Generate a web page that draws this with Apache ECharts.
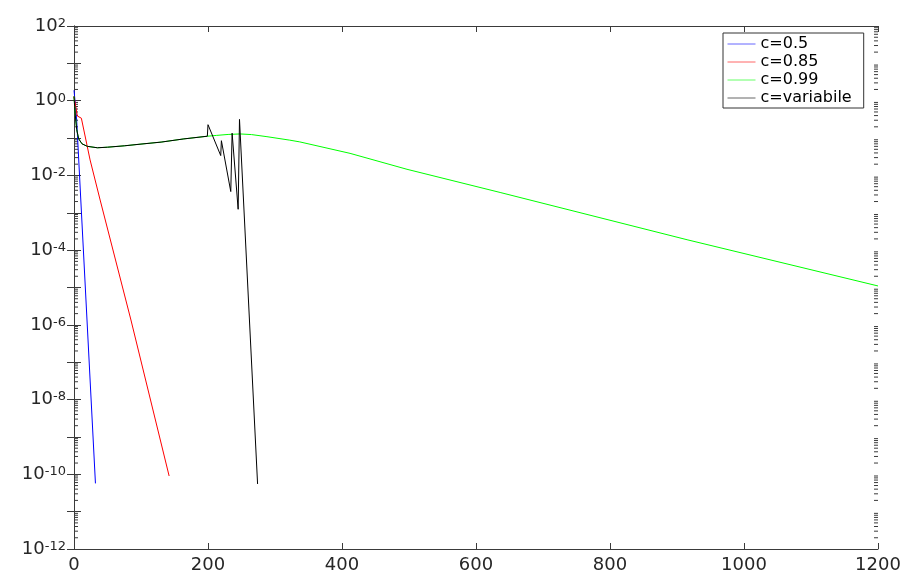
<!DOCTYPE html>
<html>
<head>
<meta charset="utf-8">
<script src="https://cdn.jsdelivr.net/npm/echarts@6/dist/echarts.min.js"></script>
<style>
  html, body { margin: 0; padding: 0; background: #fff; }
  #chart { width: 906px; height: 574px; }
</style>
</head>
<body>
<div id="chart"></div>
<script>
// Residual per iteration for each damping factor c (log scale).
const seriesNames = ['c=0.5', 'c=0.85', 'c=0.99', 'c=variabile'];

const iterC050 = [0, 2, 4, 32];
const resC050  = [1.9, 0.8, 0.3, 5.7e-11];

const iterC085 = [0, 5, 11, 24, 39, 85, 142];
const resC085  = [1.3, 0.39, 0.34, 0.026, 2.2e-3, 1.35e-6, 9e-11];

// c=0.99 and c=variabile coincide up to iteration 199
const iterC099 = [0, 1, 2, 4, 7, 12, 20, 35, 50, 75, 100, 130, 164, 199,
                  213, 230, 248, 265, 288, 322, 337, 412, 497, 636, 915, 1200];
const resC099  = [1.3, 0.7, 0.4, 0.17, 0.095, 0.07, 0.06, 0.055, 0.057, 0.062, 0.069, 0.078, 0.095, 0.112,
                  0.118, 0.125, 0.129, 0.124, 0.109, 0.088, 0.079, 0.039, 0.0146, 3.5e-3, 1.9e-4, 1.1e-5];

const iterVar = [0, 1, 2, 4, 7, 12, 20, 35, 50, 75, 100, 130, 164, 199,
                 200, 219, 220, 234, 236, 245, 247, 274];
const resVar  = [1.3, 0.7, 0.4, 0.17, 0.095, 0.07, 0.06, 0.055, 0.057, 0.062, 0.069, 0.078, 0.095, 0.112,
                 0.228, 0.034, 0.085, 0.0037, 0.135, 0.00124, 0.316, 5.5e-11];

const xTicks = [0, 200, 400, 600, 800, 1000, 1200];
const yExpMin = -12, yExpMax = 2;

const pairs = (xs, ys) => xs.map((x, i) => [x, ys[i]]);

// Minor tick positions on the log axis: 2..9 times each decade
const minorTicks = [];
for (let e = yExpMin; e < yExpMax; e++) {
  for (let k = 2; k <= 9; k++) minorTicks.push([0, k * Math.pow(10, e)]);
}

const FONT = 'DejaVu Sans';
const AXIS_COLOR = '#3a3a3a';
const TEXT_COLOR = '#262626';

const chart = echarts.init(document.getElementById('chart'), null, { renderer: 'canvas' });

const lineSeries = (name, data, color) => ({
  name, type: 'line', data, symbol: 'none', showSymbol: false, smooth: false,
  lineStyle: { color, width: 1 }, itemStyle: { color },
  emphasis: { disabled: true }, animation: false, z: 3
});

const yAxisBase = {
  type: 'log', logBase: 10,
  min: Math.pow(10, yExpMin), max: Math.pow(10, yExpMax), interval: 1,
  axisLine: { show: true, lineStyle: { color: AXIS_COLOR, width: 1 } },
  axisTick: { show: true, inside: true, length: 7, lineStyle: { color: AXIS_COLOR } },
  splitLine: { show: false }
};

chart.setOption({
  animation: false,
  backgroundColor: '#fff',
  grid: { left: 74, right: 28, top: 26, bottom: 25, containLabel: false },
  xAxis: [
    {
      type: 'value', min: 0, max: 1200, interval: 200, position: 'bottom',
      axisLine: { show: true, onZero: false, lineStyle: { color: AXIS_COLOR, width: 1 } },
      axisTick: { show: true, inside: true, length: 6, lineStyle: { color: AXIS_COLOR } },
      axisLabel: { show: true, color: TEXT_COLOR, fontFamily: FONT, fontSize: 18, margin: 7,
                   formatter: v => xTicks.includes(v) ? String(v) : '' },
      splitLine: { show: false }
    },
    {
      type: 'value', min: 0, max: 1200, interval: 200, position: 'top',
      axisLine: { show: true, onZero: false, lineStyle: { color: AXIS_COLOR, width: 1 } },
      axisTick: { show: true, inside: true, length: 6, lineStyle: { color: AXIS_COLOR } },
      axisLabel: { show: false },
      splitLine: { show: false }
    }
  ],
  yAxis: [
    Object.assign({}, yAxisBase, {
      position: 'left',
      axisLabel: {
        show: true, margin: 8, color: TEXT_COLOR, fontFamily: FONT,
        formatter: v => {
          const e = Math.round(Math.log10(v));
          if (e % 2 !== 0) return '';
          return '{b|10}{s|' + e + '}';
        },
        rich: {
          b: { fontSize: 18, fontFamily: FONT, color: TEXT_COLOR },
          s: { fontSize: 13, fontFamily: FONT, color: TEXT_COLOR, verticalAlign: 'top' }
        }
      }
    }),
    Object.assign({}, yAxisBase, { position: 'right', axisLabel: { show: false } })
  ],
  legend: {
    data: seriesNames,
    orient: 'vertical',
    left: 723, top: 33,
    padding: [3, 12, 2, 4],
    itemGap: 2, itemWidth: 28, itemHeight: 14,
    backgroundColor: '#fff',
    borderColor: '#333', borderWidth: 1, borderRadius: 0,
    itemStyle: { opacity: 0 },
    lineStyle: { width: 1, opacity: 0.6 },
    textStyle: { fontFamily: FONT, fontSize: 16, color: '#000' },
    selectedMode: false
  },
  series: [
    lineSeries('c=0.5', pairs(iterC050, resC050), '#0000ff'),
    lineSeries('c=0.85', pairs(iterC085, resC085), '#ff0000'),
    lineSeries('c=0.99', pairs(iterC099, resC099), '#00ff00'),
    lineSeries('c=variabile', pairs(iterVar, resVar), '#000000'),
    {
      name: 'minorTicks', type: 'custom', data: minorTicks, silent: true, z: 2,
      encode: { x: 0, y: 1 }, clip: false,
      renderItem: (params, api) => {
        const y = api.coord([0, api.value(1)])[1];
        const cs = params.coordSys;
        const st = { stroke: AXIS_COLOR, lineWidth: 1 };
        return {
          type: 'group',
          children: [
            { type: 'line', shape: { x1: cs.x, y1: y, x2: cs.x + 4, y2: y }, style: st },
            { type: 'line', shape: { x1: cs.x + cs.width - 4, y1: y, x2: cs.x + cs.width, y2: y }, style: st }
          ]
        };
      }
    }
  ]
});
</script>
</body>
</html>
